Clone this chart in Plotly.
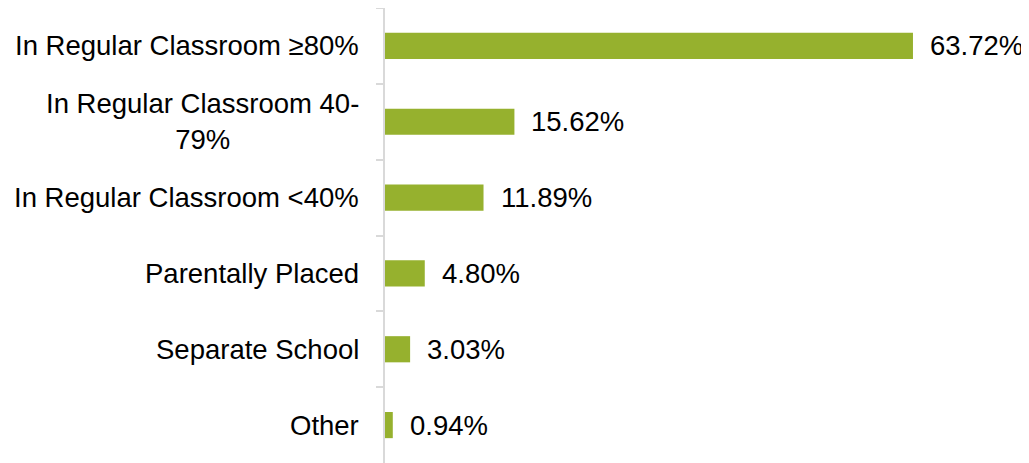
import plotly.graph_objects as go

categories = [
    "In Regular Classroom ≥80%",
    "In Regular Classroom 40-<br>79%",
    "In Regular Classroom <40%",
    "Parentally Placed",
    "Separate School",
    "Other",
]
values = [63.72, 15.62, 11.89, 4.80, 3.03, 0.94]
value_labels = ["63.72%", "15.62%", "11.89%", "4.80%", "3.03%", "0.94%"]

FONT = "Liberation Sans, Arial, sans-serif"
FS = 27.5
BAR_COLOR = "#96b12e"

fig = go.Figure(
    go.Bar(
        y=categories,
        x=values,
        orientation="h",
        marker=dict(color=BAR_COLOR, line=dict(width=0)),
        width=0.345,
        hoverinfo="skip",
    )
)

annotations = []
for c, v, t in zip(categories, values, value_labels):
    annotations.append(dict(
        x=v, y=c, xref="x", yref="y", text=t, showarrow=False,
        xanchor="left", yanchor="middle", xshift=15,
        font=dict(family=FONT, size=FS, color="#000000"),
    ))
    annotations.append(dict(
        x=0, y=c, xref="paper", yref="y", text=c, showarrow=False,
        xanchor="right", yanchor="middle", xshift=-24, align="center",
        font=dict(family=FONT, size=FS, color="#000000"),
    ))

fig.update_layout(
    width=1021, height=455,
    margin=dict(l=377, r=64, t=0, b=0),
    paper_bgcolor="white", plot_bgcolor="white",
    showlegend=False,
    annotations=annotations,
    xaxis=dict(range=[0, 70], visible=False, showgrid=False, zeroline=False),
    yaxis=dict(
        autorange="reversed",
        showticklabels=False,
        showgrid=False, zeroline=False,
        showline=True, linecolor="#d9d9d9", linewidth=1.5,
        ticks="outside", tickson="boundaries", ticklen=7,
        tickcolor="#d9d9d9", tickwidth=1.5,
    ),
)

fig.write_html("out.html")
